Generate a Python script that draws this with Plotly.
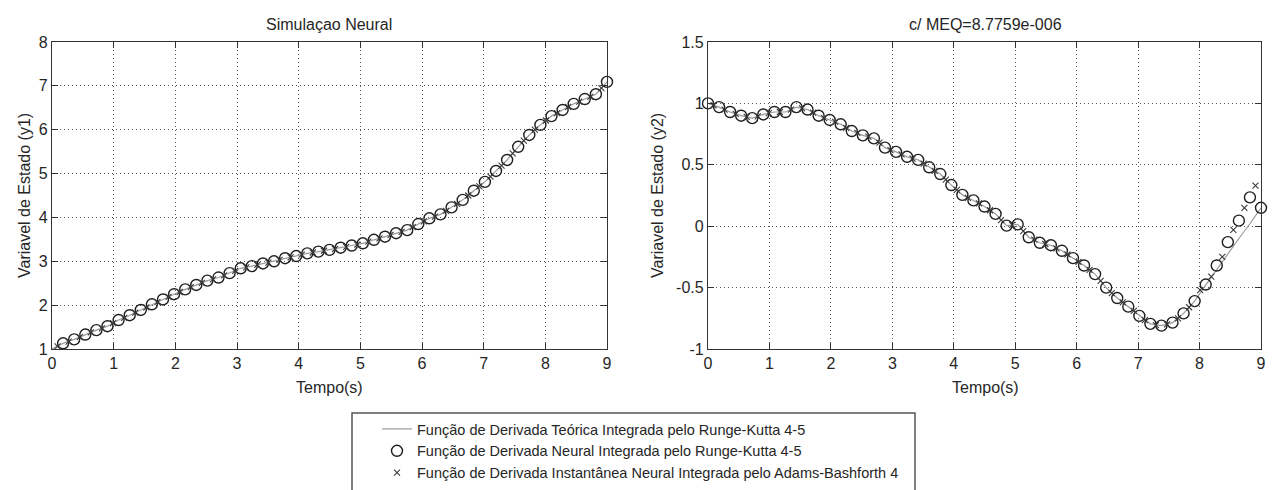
import plotly.graph_objects as go

# ---------------- data ----------------
t_rk = [0.00, 0.18, 0.36, 0.54, 0.72, 0.90, 1.08, 1.26, 1.44, 1.62, 1.80,
        1.98, 2.16, 2.34, 2.52, 2.70, 2.88, 3.06, 3.24, 3.42, 3.60,
        3.78, 3.96, 4.14, 4.32, 4.50, 4.68, 4.86, 5.04, 5.22, 5.40,
        5.58, 5.76, 5.94, 6.12, 6.30, 6.48, 6.66, 6.84, 7.02, 7.20,
        7.38, 7.56, 7.74, 7.92, 8.10, 8.28, 8.46, 8.64, 8.82, 9.00]

t_ab = [0.09, 0.27, 0.45, 0.63, 0.81, 0.99, 1.17, 1.35, 1.53, 1.71,
        1.89, 2.07, 2.25, 2.43, 2.61, 2.79, 2.97, 3.15, 3.33, 3.51,
        3.69, 3.87, 4.05, 4.23, 4.41, 4.59, 4.77, 4.95, 5.13, 5.31,
        5.49, 5.67, 5.85, 6.03, 6.21, 6.39, 6.57, 6.75, 6.93, 7.11,
        7.29, 7.47, 7.65, 7.83, 8.01, 8.19, 8.37, 8.55, 8.73, 8.91]

# y1 – theoretical (Runge-Kutta), starts at t = 0
y1_teorica = [1.00, 1.13, 1.22, 1.33, 1.43, 1.52, 1.66, 1.77, 1.89, 2.02, 2.13,
              2.25, 2.36, 2.46, 2.56, 2.63, 2.73, 2.84, 2.89, 2.95, 3.00,
              3.07, 3.12, 3.18, 3.22, 3.26, 3.31, 3.36, 3.41, 3.49, 3.56,
              3.64, 3.71, 3.85, 3.98, 4.07, 4.23, 4.40, 4.61, 4.81, 5.06,
              5.31, 5.61, 5.88, 6.11, 6.31, 6.45, 6.59, 6.70, 6.81, 7.09]

# y1 – neural (Runge-Kutta), starts at t = 0.18
y1_neural_rk = [1.13, 1.22, 1.33, 1.43, 1.52, 1.66, 1.77, 1.89, 2.02, 2.13,
                2.25, 2.36, 2.46, 2.56, 2.63, 2.73, 2.84, 2.89, 2.95, 3.00,
                3.07, 3.12, 3.18, 3.22, 3.26, 3.31, 3.36, 3.41, 3.49, 3.56,
                3.64, 3.71, 3.85, 3.98, 4.07, 4.23, 4.40, 4.61, 4.81, 5.06,
                5.31, 5.61, 5.88, 6.11, 6.31, 6.45, 6.59, 6.70, 6.81, 7.09]

# y1 – neural instantaneous (Adams-Bashforth)
y1_neural_ab = [1.06, 1.17, 1.27, 1.38, 1.47, 1.59, 1.71, 1.83, 1.95, 2.07,
                2.19, 2.30, 2.41, 2.51, 2.59, 2.68, 2.78, 2.86, 2.92, 2.97,
                3.03, 3.09, 3.15, 3.20, 3.24, 3.28, 3.33, 3.38, 3.45, 3.52,
                3.60, 3.67, 3.78, 3.91, 4.02, 4.15, 4.31, 4.50, 4.71, 4.93,
                5.18, 5.46, 5.75, 6.00, 6.21, 6.38, 6.52, 6.64, 6.75, 6.95]

# y2 – theoretical (Runge-Kutta)
y2_teorica = [1.00, 0.97, 0.93, 0.90, 0.88, 0.91, 0.93, 0.93, 0.97, 0.95, 0.90,
              0.865, 0.83, 0.775, 0.74, 0.715, 0.64, 0.605, 0.565, 0.54, 0.48,
              0.425, 0.335, 0.255, 0.21, 0.16, 0.10, 0.005, 0.015, -0.09, -0.135,
              -0.155, -0.20, -0.26, -0.32, -0.39, -0.50, -0.585, -0.655, -0.73, -0.795,
              -0.81, -0.785, -0.71, -0.61, -0.48, -0.35, -0.23, -0.10, 0.02, 0.15]

# y2 – neural (Runge-Kutta)
y2_neural_rk = [1.00, 0.97, 0.93, 0.90, 0.88, 0.91, 0.93, 0.93, 0.97, 0.95, 0.90,
                0.865, 0.83, 0.775, 0.74, 0.715, 0.64, 0.605, 0.565, 0.54, 0.48,
                0.425, 0.335, 0.255, 0.21, 0.16, 0.10, 0.005, 0.015, -0.09, -0.135,
                -0.155, -0.20, -0.26, -0.32, -0.39, -0.50, -0.585, -0.655, -0.73, -0.795,
                -0.81, -0.785, -0.71, -0.61, -0.475, -0.32, -0.13, 0.045, 0.235, 0.15]

# y2 – neural instantaneous (Adams-Bashforth)
y2_neural_ab = [0.985, 0.95, 0.915, 0.89, 0.895, 0.92, 0.93, 0.95, 0.96, 0.925,
                0.88, 0.85, 0.80, 0.76, 0.73, 0.68, 0.62, 0.585, 0.55, 0.51,
                0.45, 0.38, 0.295, 0.23, 0.185, 0.13, 0.05, 0.01, -0.04, -0.11,
                -0.145, -0.18, -0.23, -0.29, -0.355, -0.445, -0.545, -0.62, -0.69, -0.765,
                -0.805, -0.80, -0.75, -0.66, -0.52, -0.41, -0.25, -0.03, 0.15, 0.33]

x_ticks = [0, 1, 2, 3, 4, 5, 6, 7, 8, 9]
y1_ticks = [1, 2, 3, 4, 5, 6, 7, 8]
y2_ticks = [-1, -0.5, 0, 0.5, 1, 1.5]
y2_tick_labels = ["-1", "-0.5", "0", "0.5", "1", "1.5"]

title_left = "Simulaçao Neural"
title_right = "c/ MEQ=8.7759e-006"
xlabel = "Tempo(s)"
ylabel_left = "Variavel de Estado (y1)"
ylabel_right = "Variavel de Estado (y2)"
legend_names = ["Função de Derivada Teórica Integrada pelo Runge-Kutta 4-5",
                "Função de Derivada Neural Integrada pelo Runge-Kutta 4-5",
                "Função de Derivada Instantânea Neural Integrada pelo Adams-Bashforth 4"]

# ---------------- styling ----------------
W, H = 1276, 490
FONT = "Liberation Sans, Arial, sans-serif"
TXT = "#262626"
LINE_C = "#9a9a9a"
MK_C = "#1e1e1e"


def px_x(p):
    return p / W


def px_y(p):
    return (H - p) / H


fig = go.Figure()

for i, (yt, yrk, yab, xa, ya, trk) in enumerate([
        (y1_teorica, y1_neural_rk, y1_neural_ab, "x", "y", t_rk[1:]),
        (y2_teorica, y2_neural_rk, y2_neural_ab, "x2", "y2", t_rk)]):
    show = (i == 1)
    fig.add_trace(go.Scatter(x=t_rk, y=yt, mode="lines", name=legend_names[0],
                             line=dict(color=LINE_C, width=1.2),
                             xaxis=xa, yaxis=ya, showlegend=show, cliponaxis=False))
    fig.add_trace(go.Scatter(x=trk, y=yrk, mode="markers", name=legend_names[1],
                             marker=dict(symbol="circle-open", size=11, color=MK_C,
                                         line=dict(width=1.4, color=MK_C)),
                             xaxis=xa, yaxis=ya, showlegend=show, cliponaxis=False))
    fig.add_trace(go.Scatter(x=t_ab, y=yab, mode="markers", name=legend_names[2],
                             marker=dict(symbol="x-thin-open", size=6, color="#3a3a3a",
                                         line=dict(width=1.1, color="#3a3a3a")),
                             xaxis=xa, yaxis=ya, showlegend=show, cliponaxis=False))

axis_common = dict(
    showgrid=True, gridcolor="#555555", griddash="1px,3px", gridwidth=1,
    showline=True, linecolor="#333333", linewidth=1.3, mirror="ticks",
    ticks="inside", ticklen=6, tickwidth=1.2, tickcolor="#333333",
    zeroline=False, automargin=False,
    tickfont=dict(family=FONT, size=16, color=TXT),
)

fig.update_layout(
    width=W, height=H,
    margin=dict(l=0, r=0, t=0, b=0),
    paper_bgcolor="white", plot_bgcolor="white",
    font=dict(family=FONT, size=16, color=TXT),
    xaxis=dict(domain=[px_x(52), px_x(607)], range=[0, 9], tickvals=x_ticks,
               anchor="y", **axis_common),
    yaxis=dict(domain=[px_y(349), px_y(42)], range=[1, 8], tickvals=y1_ticks,
               anchor="x", **axis_common),
    xaxis2=dict(domain=[px_x(708), px_x(1261)], range=[0, 9], tickvals=x_ticks,
                anchor="y2", **axis_common),
    yaxis2=dict(domain=[px_y(349), px_y(42)], range=[-1, 1.5], tickvals=y2_ticks,
                ticktext=y2_tick_labels, anchor="x2", **axis_common),
    legend=dict(x=px_x(377), y=px_y(413), xanchor="left", yanchor="top",
                bgcolor="rgba(0,0,0,0)", borderwidth=0,
                font=dict(family=FONT, size=14.5, color=TXT),
                itemwidth=30, tracegroupgap=0),
    showlegend=True,
)

# legend frame (bottom edge runs off the page as in the reference)
fig.add_shape(type="rect", xref="paper", yref="paper",
              x0=px_x(352), x1=px_x(915), y0=px_y(520), y1=px_y(413),
              line=dict(color="#555555", width=1.5), fillcolor="rgba(0,0,0,0)")

ann = [
    dict(text=title_left, x=px_x(329), y=px_y(24)),
    dict(text=title_right, x=px_x(985), y=px_y(24)),
    dict(text=xlabel, x=px_x(329), y=px_y(387)),
    dict(text=xlabel, x=px_x(985), y=px_y(387)),
    dict(text=ylabel_left, x=px_x(24), y=px_y(196), textangle=-90),
    dict(text=ylabel_right, x=px_x(657), y=px_y(196), textangle=-90),
]
for a in ann:
    fig.add_annotation(xref="paper", yref="paper", showarrow=False,
                       xanchor="center", yanchor="middle",
                       font=dict(family=FONT, size=16, color=TXT), **a)

fig.write_html("out.html")
